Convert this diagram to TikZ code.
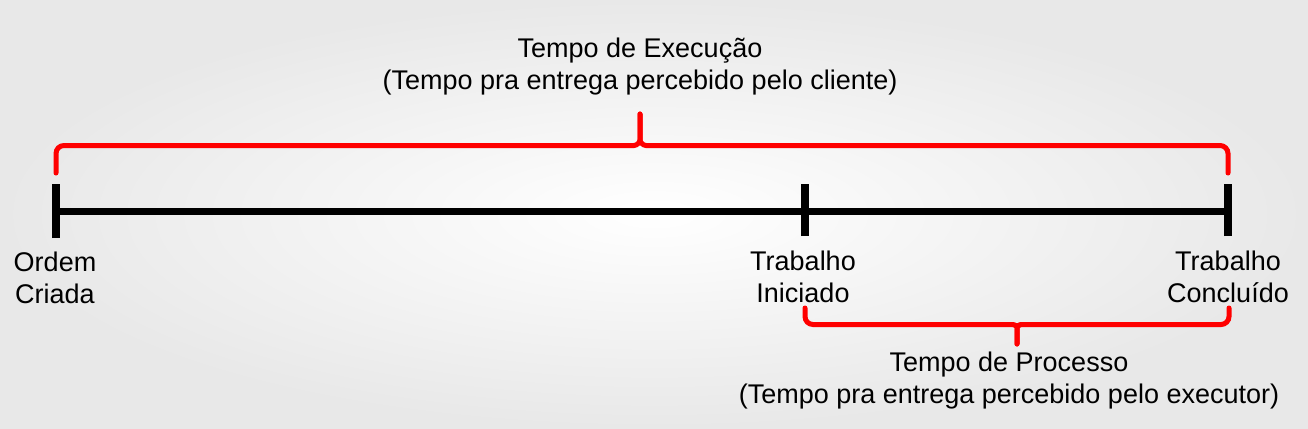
\documentclass[tikz,border=0pt]{standalone}
\usepackage{fontspec}
\setmainfont{Liberation Sans}
\begin{document}
\begin{tikzpicture}[x=1pt,y=-1pt,
	timetext/.style={align=center,font=\fontsize{27}{32}\selectfont,inner sep=0pt,anchor=base},
	axisline/.style={line width=7pt},
	tickmark/.style={line width=8pt},
	brace/.style={draw=red,line width=5pt,rounded corners=8pt,line cap=round}]

	% Background.
	\useasboundingbox (0,0) rectangle (1308,428);
	\shade[inner color=white,outer color=black!9] (0,0) rectangle (1308,428);

	% Points on the time line.
	\coordinate    (ordem) at (56,211);
	\coordinate (iniciado) at (805,211);
	\coordinate (concluido) at (1228,211);

	% Time line and ticks.
	\draw[axisline] (ordem) -- (concluido);
	\draw[tickmark] ([yshift=-27]ordem) -- ([yshift=27]ordem);
	\draw[tickmark] ([yshift=-25]iniciado) -- ([yshift=27]iniciado);
	\draw[tickmark] ([yshift=-25]concluido) -- ([yshift=27]concluido);

	% Labels (anchored at the last line's base).
	\node[timetext]  (ordem_txt) at (55,303) {Ordem\\Criada};
	\node[timetext] (inicio_txt) at (803,302) {Trabalho\\Iniciado};
	\node[timetext]    (fim_txt) at (1228,302) {Trabalho\\Concluído};
	\node[timetext]   (execucao) at (640,89) {Tempo de Execução\\(Tempo pra entrega percebido pelo cliente)};
	\node[timetext]   (processo) at (1009,403) {Tempo de Processo\\(Tempo pra entrega percebido pelo executor)};

	% Braces.
	\coordinate (exec_tip) at (640,114);
	\coordinate (proc_tip) at (1017,344);
	\draw[brace] (56,173) -- (56,145.5) -- (626,145.5)
		.. controls (637,145.5) and (640,142) .. (640,132) -- (exec_tip);
	\draw[brace] (exec_tip) -- (640,132)
		.. controls (640,142) and (643,145.5) .. (654,145.5) -- (1228,145.5) -- (1228,173);
	\draw[brace] (805,308) -- (805,324.5) -- (1005,324.5)
		.. controls (1014,324.5) and (1017,327) .. (1017,334) -- (proc_tip);
	\draw[brace] (proc_tip) -- (1017,334)
		.. controls (1017,327) and (1020,324.5) .. (1029,324.5) -- (1229,324.5) -- (1229,308);

\end{tikzpicture}
\end{document}
